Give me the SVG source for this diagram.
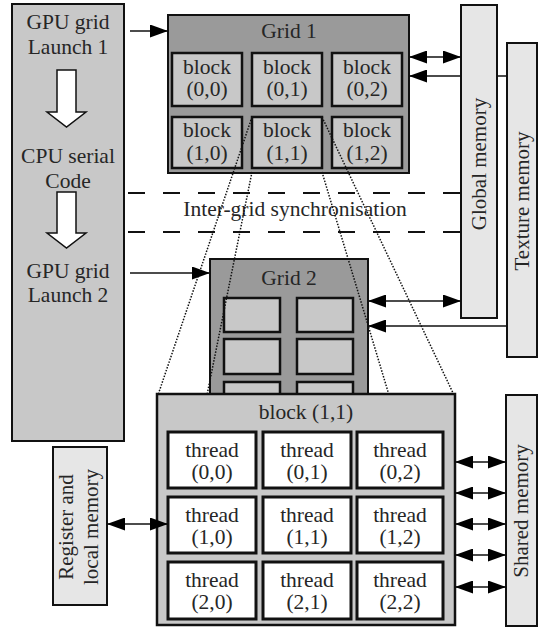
<svg xmlns="http://www.w3.org/2000/svg" width="538" height="627" viewBox="0 0 538 627">
<defs>
<style>
text{font-family:"Liberation Serif","Times New Roman",serif;font-size:21.5px;fill:#262626;text-anchor:middle}
.bx{stroke:#111;stroke-width:2}
.side{fill:#c8c8c8}
.grid{fill:#9a9a9a}
.blk{fill:#c8c8c8;stroke:#111;stroke-width:2.5}
.thr{fill:#fff;stroke:#111;stroke-width:3}
.mem{fill:#e6e6e6;stroke:#111;stroke-width:2}
.dash{stroke:#111;stroke-width:2;stroke-dasharray:17 18;fill:none}
.dot{stroke:#111;stroke-width:1.5;stroke-dasharray:1.5 1.5;fill:none}
.con{stroke:#111;stroke-width:1.5;fill:none}
.wa{fill:#fff;stroke:#111;stroke-width:1.5}
.rt{font-size:21px}
</style>
<marker id="ah" viewBox="0 0 18 13" refX="18" refY="6.5" markerWidth="18" markerHeight="13" markerUnits="userSpaceOnUse" orient="auto-start-reverse">
<path d="M0,0 L18,6.5 L0,13 z" fill="#000"/>
</marker>
</defs>

<g id="cpu">
<rect class="bx side" x="12" y="4" width="112" height="437"/>
<text x="68" y="29">GPU grid</text>
<text x="68" y="54">Launch 1</text>
<polygon class="wa" points="57,70 76,70 76,112 86,112 66.5,127 47,112 57,112"/>
<text x="68" y="163">CPU serial</text>
<text x="68" y="188">Code</text>
<polygon class="wa" points="57,192 76,192 76,233 86,233 66.5,248 47,233 57,233"/>
<text x="68" y="278">GPU grid</text>
<text x="68" y="302">Launch 2</text>
</g>

<g id="grid1">
<rect class="bx grid" x="168" y="15" width="241" height="158"/>
<text x="289" y="38">Grid 1</text>
<rect class="blk" x="172" y="53" width="70" height="53"/>
<rect class="blk" x="252" y="53" width="70" height="53"/>
<rect class="blk" x="332" y="53" width="70" height="53"/>
<rect class="blk" x="172" y="117" width="70" height="51"/>
<rect class="blk" x="252" y="117" width="70" height="51"/>
<rect class="blk" x="332" y="117" width="70" height="51"/>
<text x="207" y="74">block</text><text x="207" y="96">(0,0)</text>
<text x="287" y="74">block</text><text x="287" y="96">(0,1)</text>
<text x="367" y="74">block</text><text x="367" y="96">(0,2)</text>
<text x="207" y="137">block</text><text x="207" y="160">(1,0)</text>
<text x="287" y="137">block</text><text x="287" y="160">(1,1)</text>
<text x="367" y="137">block</text><text x="367" y="160">(1,2)</text>
</g>

<g id="sync">
<path class="dash" d="M128,193 H461 M128,232 H461"/>
<text x="295" y="216">Inter-grid synchronisation</text>
</g>

<g id="grid2">
<rect class="bx grid" x="210" y="259" width="158" height="140"/>
<text x="289" y="285">Grid 2</text>
<rect class="blk" x="224" y="298" width="56" height="34"/>
<rect class="blk" x="297" y="298" width="56" height="34"/>
<rect class="blk" x="224" y="339" width="56" height="35"/>
<rect class="blk" x="297" y="339" width="56" height="35"/>
<rect class="blk" x="224" y="382" width="56" height="30"/>
<rect class="blk" x="297" y="382" width="56" height="30"/>
</g>

<g id="projection">
<path class="dot" d="M252,117 L158,395 M252,172 L207,395 M322,172 L389,395 M322,117 L454,395"/>
</g>

<g id="block11">
<rect class="blk" x="157" y="394" width="298" height="231"/>
<text x="306" y="419">block (1,1)</text>
<rect class="thr" x="168" y="432" width="88" height="56"/>
<rect class="thr" x="263" y="432" width="88" height="56"/>
<rect class="thr" x="357" y="432" width="86" height="56"/>
<rect class="thr" x="168" y="497" width="88" height="56"/>
<rect class="thr" x="263" y="497" width="88" height="56"/>
<rect class="thr" x="357" y="497" width="86" height="56"/>
<rect class="thr" x="168" y="562" width="88" height="57"/>
<rect class="thr" x="263" y="562" width="88" height="57"/>
<rect class="thr" x="357" y="562" width="86" height="57"/>
<text x="212" y="457">thread</text><text x="212" y="479">(0,0)</text>
<text x="307" y="457">thread</text><text x="307" y="479">(0,1)</text>
<text x="400" y="457">thread</text><text x="400" y="479">(0,2)</text>
<text x="212" y="522">thread</text><text x="212" y="544">(1,0)</text>
<text x="307" y="522">thread</text><text x="307" y="544">(1,1)</text>
<text x="400" y="522">thread</text><text x="400" y="544">(1,2)</text>
<text x="212" y="587">thread</text><text x="212" y="609">(2,0)</text>
<text x="307" y="587">thread</text><text x="307" y="609">(2,1)</text>
<text x="400" y="587">thread</text><text x="400" y="609">(2,2)</text>
</g>

<g id="global-memory">
<rect class="mem" x="461" y="5" width="36" height="313"/>
<text class="rt" transform="translate(486,164) rotate(-90)">Global memory</text>
</g>
<g id="texture-memory">
<rect class="mem" x="507" y="43" width="30" height="314"/>
<text class="rt" transform="translate(529,201) rotate(-90)">Texture memory</text>
</g>
<g id="shared-memory">
<rect class="mem" x="506" y="395" width="31" height="231"/>
<text class="rt" transform="translate(528,511) rotate(-90)">Shared memory</text>
</g>
<g id="register-memory">
<rect class="mem" x="53" y="447" width="54" height="158"/>
<text class="rt" transform="translate(73,527) rotate(-90)">Register and</text>
<text class="rt" transform="translate(98,527) rotate(-90)">local memory</text>
</g>

<g id="connectors">
<path class="con" d="M130,31 H168" marker-end="url(#ah)"/>
<path class="con" d="M130,273 H210" marker-end="url(#ah)"/>
<path class="con" d="M409,57 H461" marker-start="url(#ah)" marker-end="url(#ah)"/>
<path class="con" d="M507,76 H497 M461,76 H409" marker-end="url(#ah)"/>
<path class="con" d="M368,301 H461" marker-start="url(#ah)" marker-end="url(#ah)"/>
<path class="con" d="M507,326 H368" marker-end="url(#ah)"/>
<path class="con" d="M107,524 H168" marker-start="url(#ah)" marker-end="url(#ah)"/>
<path class="con" d="M455,462 H506" marker-start="url(#ah)" marker-end="url(#ah)"/>
<path class="con" d="M455,493 H506" marker-start="url(#ah)" marker-end="url(#ah)"/>
<path class="con" d="M455,524 H506" marker-start="url(#ah)" marker-end="url(#ah)"/>
<path class="con" d="M455,555 H506" marker-start="url(#ah)" marker-end="url(#ah)"/>
<path class="con" d="M455,587 H506" marker-start="url(#ah)" marker-end="url(#ah)"/>
</g>
</svg>
